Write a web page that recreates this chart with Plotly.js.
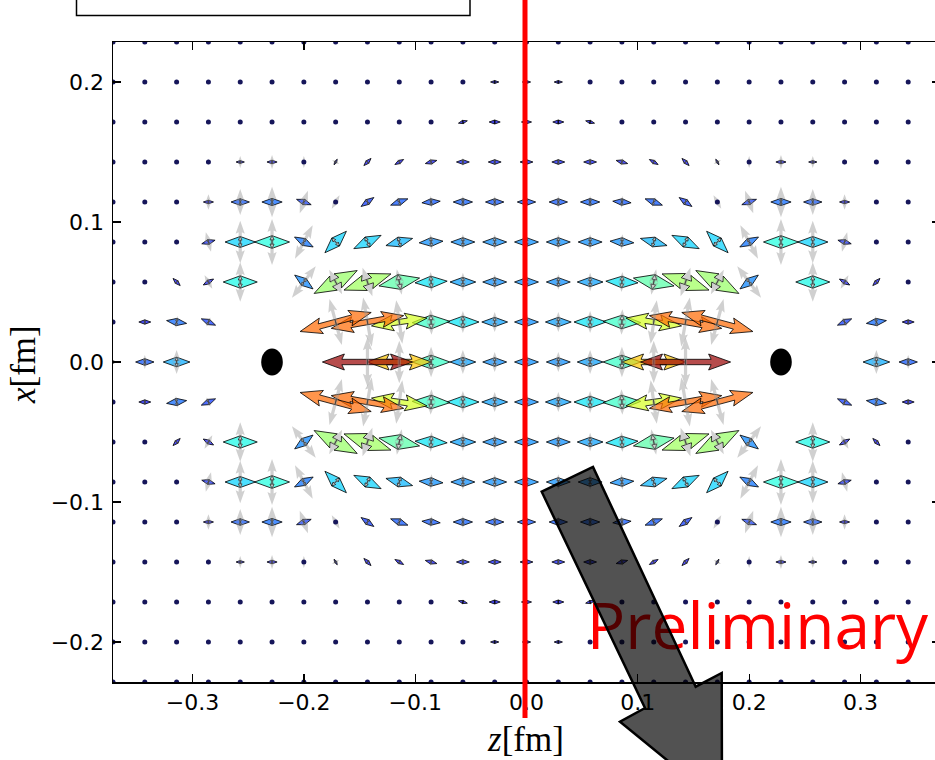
<!DOCTYPE html>
<html><head><meta charset="utf-8">
<script src="https://cdn.plot.ly/plotly-3.0.1.min.js"></script>
<style>html,body{margin:0;padding:0;overflow:hidden;background:#fff}#chart{width:960px;height:760px}</style>
</head><body><div id="chart"></div>
<script>
// ---------------- data ----------------
// lattice spacing (fm); grid points z = k*a, x = j*a
const latticeSpacing = 0.2 / 7;
const colIndex = [0,1,2,3,4,5,6,7,8,9,10,11,12,13];
const rowIndex = [0,1,2,3,4,5,6,7,8];
// quark positions (fm)
const quarkZ = [-0.2286, 0.2286];
const quarkX = [0, 0];
// upper-right quadrant (z>=0, x>=0), other quadrants by reflection symmetry
// normalized magnitude of the principal (coloured) stress axis; null = not shown
const tensionMag = [
  [0.26,0.26,0.28,0.41,0.70,0.98,null,null,null,null,null,0.29,0.20,0.07],
  [0.26,0.28,0.35,0.41,0.61,0.80,0.80,null,null,null,0.17,0.22,0.13,0.04],
  [0.26,0.26,0.28,0.35,0.45,0.54,0.53,0.25,null,0.37,0.13,0.11,0,0],
  [0.26,0.26,0.26,0.26,0.30,0.33,0.33,0.23,0.38,0.33,0.15,0,0,0],
  [0.20,0.20,0.21,0.20,0.20,0.17,0.04,0.17,0.22,0.20,0.11,0,0,0],
  [0.14,0.14,0.14,0.13,0.11,0.11,0.07,0,0.11,0.09,0,0,0,0],
  [0.11,0.12,0.10,0,0,0,0,0,0,0,0,0,0,0],
  [0.09,0.09,0,0,0,0,0,0,0,0,0,0,0,0],
  [0,0,0,0,0,0,0,0,0,0,0,0,0,0]
];
// direction of the coloured axis (degrees from +z)
const tensionAngle = [
  [0,0,0,0,0,0,0,0,0,0,0,0,0,0],
  [0,0,0,-2,-8,-10,-15,0,0,0,24,8,0,0],
  [0,0,0,-3,-11,-19,-28,37,0,0,-30,45,0,0],
  [0,0,0,-4,-15,-26,-45,28,0,0,-15,0,0,0],
  [0,0,0,-5,-20,-35,30,20,0,0,0,0,0,0],
  [0,0,0,-15,-30,-45,-60,0,0,0,0,0,0,0],
  [0,0,-15,0,0,0,0,0,0,0,0,0,0,0],
  [0,0,0,0,0,0,0,0,0,0,0,0,0,0],
  [0,0,0,0,0,0,0,0,0,0,0,0,0,0]
];
// normalized magnitude of the perpendicular (grey) stress axis
const pressureMag = [
  [0.20,0.22,0.26,0.33,0.46,0.54,null,null,null,null,null,0.26,0.15,0.04],
  [0.20,0.22,0.24,0.28,0.48,0.54,0.52,null,null,null,0.11,0.13,0.07,0],
  [0.17,0.17,0.20,0.22,0.28,0.33,0.30,0.43,null,0.43,0.17,0.07,0,0],
  [0.15,0.17,0.17,0.17,0.13,0.11,0.11,0.41,0.50,0.46,0.22,0.07,0,0],
  [0.11,0.13,0.13,0.13,0.11,0.09,0.17,0.26,0.33,0.28,0.17,0,0,0],
  [0.07,0.07,0.09,0.09,0.07,0.07,0.09,0.13,0.15,0.13,0.07,0,0,0],
  [0,0,0,0,0,0,0,0,0,0,0,0,0,0],
  [0,0,0,0,0,0,0,0,0,0,0,0,0,0],
  [0,0,0,0,0,0,0,0,0,0,0,0,0,0]
];
const xTickVals = [-0.3,-0.2,-0.1,0,0.1,0.2,0.3];
const xTickText = ['\u22120.3','\u22120.2','\u22120.1','0.0','0.1','0.2','0.3'];
const yTickVals = [-0.2,-0.1,0,0.1,0.2];
const yTickText = ['\u22120.2','\u22120.1','0.0','0.1','0.2'];
const stampText = 'Preliminary';
const stampPos = [0.2075, -0.1935];

// ---------------- styling / geometry ----------------
const W = 960, H = 760;
const M = {l:113, r:20, t:42, b:78};
const PW = W - M.l - M.r, PH = H - M.t - M.b;
const a = latticeSpacing;
const xr = [-13*a, 13*a], yr = [-8*a, 8*a];
const sx = PW/(xr[1]-xr[0]), sy = PH/(yr[1]-yr[0]);
const arrowScalePx = 46;
const colGeom = {sw:2.7, hw:8, hl:22, ha:19.5};
const grayGeom = {sw:1.6, hw:4.6, hl:13, ha:11.5};

function lerp(pts, v){
  for(let i=1;i<pts.length;i++){
    if(v<=pts[i][0]){const t=(v-pts[i-1][0])/(pts[i][0]-pts[i-1][0]);return pts[i-1][1]+t*(pts[i][1]-pts[i-1][1]);}
  }
  return pts[pts.length-1][1];
}
const jetR=[[0,0],[0.35,0],[0.66,1],[0.89,1],[1,0.5]];
const jetG=[[0,0],[0.125,0],[0.375,1],[0.64,1],[0.91,0],[1,0]];
const jetB=[[0,0.5],[0.11,1],[0.34,1],[0.65,0],[1,0]];
function jet(v, alpha){
  v=Math.max(0,Math.min(1,v));
  return 'rgba('+Math.round(255*lerp(jetR,v))+','+Math.round(255*lerp(jetG,v))+','+Math.round(255*lerp(jetB,v))+','+alpha+')';
}
function oneArrow(zc, xc, L, ang, g){
  let pts;
  if(L < g.hl){
    const s=L/g.hl;
    pts=[[0,g.sw],[g.hl-g.ha,g.sw],[0,g.hw],[g.hl,0],[0,-g.hw],[g.hl-g.ha,-g.sw],[0,-g.sw]].map(p=>[p[0]*s,p[1]*s]);
  } else {
    pts=[[0,g.sw],[L-g.ha,g.sw],[L-g.hl,g.hw],[L,0],[L-g.hl,-g.hw],[L-g.ha,-g.sw],[0,-g.sw]];
  }
  const c=Math.cos(ang*Math.PI/180), s=Math.sin(ang*Math.PI/180);
  return pts.map((p,i)=>{
    const rx=p[0]*c-p[1]*s, ry=p[0]*s+p[1]*c;
    return (i?'L':'M')+(zc+rx/sx).toFixed(6)+','+(xc+ry/sy).toFixed(6);
  }).join('')+'Z';
}
function doubleArrow(zc,xc,L,ang,g){
  return oneArrow(zc,xc,L,ang,g)+' '+oneArrow(zc,xc,L,ang+180,g);
}

const colShapes=[], grayShapes=[], dotZ=[], dotX=[];
rowIndex.forEach(j=>{
  colIndex.forEach(k=>{
    const m=tensionMag[j][k];
    if(m===null) return;
    const sks = k===0?[1]:[1,-1];
    const sjs = j===0?[1]:[1,-1];
    sks.forEach(sk=>sjs.forEach(sj=>{
      const z=sk*k*a, x=sj*j*a;
      const ang=tensionAngle[j][k]*sk*sj;
      const L=m*arrowScalePx;
      if(L<3){dotZ.push(z);dotX.push(x);}
      else colShapes.push({type:'path',xref:'x',yref:'y',layer:'below',
        path:doubleArrow(z,x,L,ang,colGeom),fillcolor:jet(m,0.7),
        line:{color:'rgba(0,0,0,0.9)',width:0.9}});
      const gm=pressureMag[j][k];
      if(gm!==null && gm*arrowScalePx>=3){
        grayShapes.push({type:'path',xref:'x',yref:'y',layer:'below',
          path:doubleArrow(z,x,gm*arrowScalePx,ang+90,grayGeom),
          fillcolor:'rgba(150,150,150,0.45)',line:{width:0}});
      }
    }));
  });
});

const px2paperX = p => (p-M.l)/PW;
const px2paperY = p => (M.t+PH-p)/PH;
const calloutPx=[[541.7,491.7],[593,467],[695.7,686.7],[721.7,673],[722,805],[620,721.7],[645,708]];
const calloutPath = calloutPx.map((p,i)=>(i?'L':'M')+px2paperX(p[0]).toFixed(5)+','+px2paperY(p[1]).toFixed(5)).join('')+'Z';

const quarkR = 0.0097;
const quarkShapes = quarkZ.map((qz,i)=>({type:'circle',xref:'x',yref:'y',layer:'above',
  x0:qz-quarkR,x1:qz+quarkR,y0:quarkX[i]-quarkR,y1:quarkX[i]+quarkR,fillcolor:'black',line:{width:0}}));

const overlayShapes=[
  {type:'line',xref:'paper',yref:'paper',x0:px2paperX(525),x1:px2paperX(525),y0:px2paperY(718),y1:px2paperY(-5),
   line:{color:'#ff0000',width:5},layer:'above'},
  {type:'rect',xref:'paper',yref:'paper',x0:px2paperX(76.5),x1:px2paperX(470),y0:px2paperY(15.5),y1:px2paperY(-10),
   line:{color:'black',width:1.5},fillcolor:'rgba(0,0,0,0)',layer:'above'},
  {type:'path',xref:'paper',yref:'paper',path:calloutPath,fillcolor:'rgba(0,0,0,0.68)',
   line:{color:'black',width:2.5},layer:'above'}
];

const traces=[
  {type:'scatter',mode:'markers',x:dotZ,y:dotX,hoverinfo:'skip',
   marker:{size:5,color:'rgb(22,22,90)',line:{width:0}}},
  {type:'scatter',mode:'text',x:[stampPos[0]],y:[stampPos[1]],text:[stampText],cliponaxis:false,
   textposition:'middle center',textfont:{family:'Open Sans',size:64,color:'#ff0000'},hoverinfo:'skip'}
];

const axisCommon={showgrid:false,zeroline:false,showline:true,linecolor:'black',linewidth:1.5,mirror:'ticks',
  ticks:'inside',ticklen:8,tickwidth:1.3,tickcolor:'black',
  tickfont:{family:'DejaVu Sans',size:22,color:'black'},fixedrange:true};

const layout={
  width:W,height:H,margin:M,paper_bgcolor:'white',plot_bgcolor:'white',showlegend:false,
  xaxis:Object.assign({},axisCommon,{range:xr,tickmode:'array',tickvals:xTickVals,ticktext:xTickText,ticklabelstandoff:0}),
  yaxis:Object.assign({},axisCommon,{range:yr,tickmode:'array',tickvals:yTickVals,ticktext:yTickText,ticklabelstandoff:3}),
  shapes:colShapes.concat(grayShapes,quarkShapes,overlayShapes),
  annotations:[
    {text:'<i>z</i>[fm]',xref:'paper',yref:'paper',x:px2paperX(525),y:px2paperY(739),showarrow:false,
     xanchor:'center',yanchor:'middle',font:{family:'Liberation Serif',size:35,color:'black'}},
    {text:'<i>x</i>[fm]',xref:'paper',yref:'paper',x:px2paperX(23),y:px2paperY(365),showarrow:false,textangle:-90,
     xanchor:'center',yanchor:'middle',font:{family:'Liberation Serif',size:35,color:'black'}}
  ]
};
Plotly.newPlot('chart',traces,layout,{staticPlot:true,displayModeBar:false});
</script></body></html>
